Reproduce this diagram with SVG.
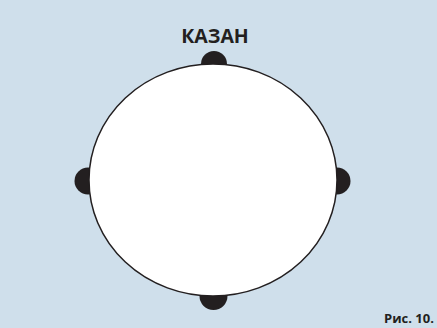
<svg xmlns="http://www.w3.org/2000/svg" width="437" height="328" viewBox="0 0 437 328">
<style>
.bg{fill:#cfdfeb}
.bump{fill:#231f20}
.body{fill:#ffffff;stroke:#231f20;stroke-width:1.5}
.t{font-family:"Open Sans","Liberation Sans",sans-serif;font-weight:bold;fill:#231f20}
</style>
<rect class="bg" x="0" y="0" width="437" height="328"/>
<g id="kazan">
<circle class="bump" cx="214" cy="64" r="13"/>
<circle class="bump" cx="88" cy="181" r="13.5"/>
<circle class="bump" cx="337" cy="181" r="13.5"/>
<circle class="bump" cx="213.5" cy="296" r="14"/>
<ellipse class="body" cx="213" cy="180" rx="124" ry="116"/>
</g>
<text class="t" x="215" y="43" font-size="19.5" text-anchor="middle">КАЗАН</text>
<text class="t" x="384" y="323" font-size="13">Рис. 10.</text>
</svg>
